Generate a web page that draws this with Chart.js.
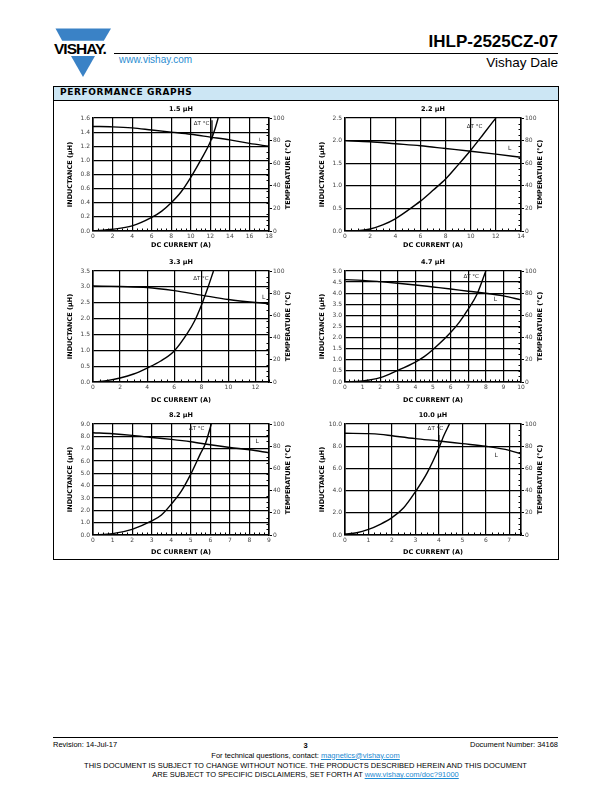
<!DOCTYPE html>
<html><head><meta charset="utf-8">
<script src="https://cdn.jsdelivr.net/npm/chart.js@4.4.0/dist/chart.umd.min.js"></script>
<style>
html,body{margin:0;padding:0;background:#fff;}
body{width:612px;height:792px;position:relative;overflow:hidden;font-family:"Liberation Sans",Arial,sans-serif;color:#000;}
.abs{position:absolute;white-space:nowrap;line-height:1;}
canvas{position:absolute;}
a{color:#1e8ad2;text-decoration:underline;}
.ctr{left:0;width:611px;text-align:center;}
</style></head><body>

<svg class="abs" style="left:0;top:0" width="130" height="90">
  <polygon points="55.5,28.6 111,28.6 103.8,40.7 62.2,40.7" fill="#3a82c6"/>
  <polygon points="71,56 95,56 83,77" fill="#3a82c6"/>
</svg>
<div class="abs" style="left:54px;top:40.7px;font-weight:bold;font-size:15.5px;letter-spacing:-1px">VISHAY.</div>
<div class="abs" style="right:54px;top:33.1px;font-weight:bold;font-size:17px">IHLP-2525CZ-07</div>
<div class="abs" style="left:114px;top:52.5px;width:444px;height:1px;background:#000"></div>
<div class="abs" style="left:119px;top:54.5px;font-size:10px;color:#2a8bd0">www.vishay.com</div>
<div class="abs" style="right:54px;top:56px;font-size:13.5px">Vishay Dale</div>

<div class="abs" style="left:53px;top:86px;width:506px;height:474px;border:1px solid #000;box-sizing:border-box"></div>
<div class="abs" style="left:54px;top:87px;width:504px;height:13px;background:#cce6f4;border-bottom:1px solid #000"></div>
<div class="abs" style="left:60px;top:88.4px;font-family:'DejaVu Sans';font-weight:bold;font-size:9px;letter-spacing:0.6px">PERFORMANCE GRAPHS</div>

<canvas id="c0" style="left:63px;top:102px"></canvas>
<canvas id="c1" style="left:315px;top:102px"></canvas>
<canvas id="c2" style="left:63px;top:255px"></canvas>
<canvas id="c3" style="left:315px;top:255px"></canvas>
<canvas id="c4" style="left:63px;top:408px"></canvas>
<canvas id="c5" style="left:315px;top:408px"></canvas>

<div class="abs" style="left:53px;top:737px;width:505px;height:1px;background:#000"></div>
<div class="abs" style="left:53px;top:740.9px;font-size:7.5px">Revision: 14-Jul-17</div>
<div class="abs ctr" style="top:741.5px;font-size:7.5px;font-weight:bold">3</div>
<div class="abs" style="right:54px;top:740.9px;font-size:7.5px">Document Number: 34168</div>
<div class="abs ctr" style="top:751.5px;font-size:7.5px">For technical questions, contact: <a>magnetics@vishay.com</a></div>
<div class="abs ctr" style="top:761.8px;font-size:7.5px">THIS DOCUMENT IS SUBJECT TO CHANGE WITHOUT NOTICE. THE PRODUCTS DESCRIBED HEREIN AND THIS DOCUMENT</div>
<div class="abs ctr" style="top:771.2px;font-size:7.5px">ARE SUBJECT TO SPECIFIC DISCLAIMERS, SET FORTH AT <a>www.vishay.com/doc?91000</a></div>

<script>
// ---------- data ----------
const TITLES = ['1.5 µH', '2.2 µH', '3.3 µH', '4.7 µH', '8.2 µH', '10.0 µH'];
const X_MAX = [18, 14, 13, 10, 9, 7.5];
const X_STEP = [2, 2, 2, 1, 1, 1];
const L_MAX = [1.6, 2.5, 3.5, 5.0, 9.0, 10.0];
const L_STEP = [0.2, 0.5, 0.5, 0.5, 1.0, 2.0];
const T_MAX = 100;
const T_STEP = 20;
const X_TITLE = 'DC CURRENT (A)';
const L_TITLE = 'INDUCTANCE (µH)';
const T_TITLE = 'TEMPERATURE (°C)';

const C1_I_L = [0, 2, 4, 6, 8, 10, 12, 14, 16, 18];
const C1_L   = [1.48, 1.475, 1.46, 1.43, 1.40, 1.37, 1.33, 1.29, 1.24, 1.20];
const C1_I_T = [0, 2, 4, 6, 7, 8, 9, 10, 11, 12, 12.5, 12.8];
const C1_T   = [0, 1.5, 4.5, 12, 17.4, 25, 34.5, 47.5, 62.5, 79, 91, 100];

const C2_I_L = [0, 2, 4, 6, 8, 10, 12, 14];
const C2_L   = [2.0, 1.975, 1.93, 1.885, 1.825, 1.765, 1.70, 1.63];
const C2_I_T = [0, 1, 2, 3, 4, 5, 6, 7, 8, 9, 10, 11, 12];
const C2_T   = [0, 0.3, 1.8, 5.4, 10.8, 18.3, 26.4, 36, 46, 58.5, 71.5, 85.6, 100];

const C3_I_L = [0, 2, 4, 6, 8, 10, 12, 13];
const C3_L   = [3.03, 3.01, 2.98, 2.88, 2.74, 2.60, 2.505, 2.47];
const C3_I_T = [0, 1, 2, 3, 4, 5, 6, 7, 7.5, 8, 8.5, 8.9];
const C3_T   = [0, 1.2, 3.6, 7.2, 12.6, 18.9, 28, 44.5, 55, 69, 85.6, 100];

const C4_I_L = [0, 1, 2, 3, 4, 5, 6, 7, 8, 9, 10];
const C4_L   = [4.61, 4.58, 4.52, 4.45, 4.37, 4.28, 4.19, 4.09, 4.0, 3.88, 3.70];
const C4_I_T = [0, 1, 2, 3, 4, 4.5, 5, 6, 6.5, 7, 7.5, 8];
const C4_T   = [0, 0.9, 3.9, 10.5, 18, 22.8, 29.3, 44.6, 54, 65.6, 79, 100];

const C5_I_L = [0, 1, 2, 3, 4, 5, 6, 7, 8, 9];
const C5_L   = [8.29, 8.21, 8.08, 7.91, 7.75, 7.56, 7.32, 7.10, 6.91, 6.67];
const C5_I_T = [0, 1, 2, 3, 3.5, 4, 4.5, 5, 5.5, 5.75, 6.05];
const C5_T   = [0, 1.2, 5.1, 12.7, 18, 27.7, 39, 54.8, 73.5, 82.5, 100];

const C6_I_L = [0, 1, 1.5, 2, 3, 4, 5, 6, 7, 7.5];
const C6_L   = [9.16, 9.13, 9.07, 8.94, 8.68, 8.47, 8.23, 7.99, 7.63, 7.30];
const C6_I_T = [0, 0.5, 1, 1.5, 2, 2.5, 3, 3.5, 4, 4.2, 4.45];
const C6_T   = [1, 2, 5, 9.6, 15.6, 24.6, 39, 56, 78.4, 89, 100];

const SERIES = [
  [C1_I_L, C1_L, C1_I_T, C1_T],
  [C2_I_L, C2_L, C2_I_T, C2_T],
  [C3_I_L, C3_L, C3_I_T, C3_T],
  [C4_I_L, C4_L, C4_I_T, C4_T],
  [C5_I_L, C5_L, C5_I_T, C5_T],
  [C6_I_L, C6_L, C6_I_T, C6_T]
];

// curve labels (in data units): [x, y on temperature axis] for ΔT, [x, y on inductance axis] for L
const DT_LABEL = [[11.1, 95], [10.3, 92.5], [7.97, 93.4], [7.17, 94.6], [5.3, 95.5], [3.85, 95.8]];
const L_LABEL  = [[17.1, 1.29], [13.1, 1.83], [12.6, 2.68], [8.55, 3.73], [8.4, 7.55], [6.44, 7.15]];
const LEADERS  = [[12.17, 98, 81], null, null, null, null, [4.0, 90, 79]];

// ---------- layout ----------
const PLOT_W = 176;
const PLOT_H = [113, 113, 111, 111, 111, 111];
const XT_PAD = [5.4, 5.4, 2.1, 2.1, 3.1, 3.1];
const TOPPAD = 16, SIDE = 30, BOT = 24;

const TICK_FONT = {family: 'DejaVu Sans', size: 6};
const TITLE_FONT = {family: 'DejaVu Sans', size: 6.5, weight: 'bold'};

const extras = {
  id: 'extras',
  afterDatasetsDraw(chart, args, o) {
    const {ctx, chartArea: a, scales} = chart;
    const xs = scales.x, yl = scales.y, yt = scales.y2;
    ctx.save();
    ctx.strokeStyle = '#000';
    ctx.lineWidth = 1;
    // minor ticks on x axis
    const xm = o.xStep / 4;
    for (let k = 0; k * xm <= xs.max + 1e-9; k++) {
      if (k % 4 === 0) continue;
      const p = Math.round(xs.getPixelForValue(k * xm)) + 0.5;
      ctx.beginPath(); ctx.moveTo(p, a.bottom); ctx.lineTo(p, a.bottom - 2.5); ctx.stroke();
    }
    // minor ticks on temperature axis
    for (let v = 5; v < T_MAX; v += 5) {
      if (v % T_STEP === 0) continue;
      const p = Math.round(yt.getPixelForValue(v)) + 0.5;
      ctx.beginPath(); ctx.moveTo(a.right, p); ctx.lineTo(a.right - 2.5, p); ctx.stroke();
    }
    // leader line
    if (o.leader) {
      const px = xs.getPixelForValue(o.leader[0]);
      ctx.lineWidth = 1.2;
      ctx.beginPath(); ctx.moveTo(px, yt.getPixelForValue(o.leader[1])); ctx.lineTo(px, yt.getPixelForValue(o.leader[2])); ctx.stroke();
    }
    // curve labels
    ctx.fillStyle = '#222';
    ctx.textAlign = 'center';
    ctx.textBaseline = 'middle';
    ctx.font = '5.5px "DejaVu Sans"';
    ctx.fillText('ΔT °C', xs.getPixelForValue(o.dt[0]), yt.getPixelForValue(o.dt[1]));
    ctx.font = (o.small ? '4.5px' : '6px') + ' "DejaVu Sans"';
    ctx.fillText('L', xs.getPixelForValue(o.l[0]), yl.getPixelForValue(o.l[1]));
    // right axis title, reading bottom to top
    ctx.fillStyle = '#000';
    ctx.font = 'bold 6.5px "DejaVu Sans"';
    ctx.translate(a.right + 19, (a.top + a.bottom) / 2);
    ctx.rotate(-Math.PI / 2);
    ctx.fillText(T_TITLE, 0, 0);
    ctx.restore();
  }
};

for (let i = 0; i < 6; i++) {
  const cv = document.getElementById('c' + i);
  const w = SIDE * 2 + PLOT_W, h = TOPPAD + PLOT_H[i] + BOT;
  cv.width = w; cv.height = h;
  cv.style.width = w + 'px'; cv.style.height = h + 'px';
  const [il, lv, it, tv] = SERIES[i];
  const lineStyle = {borderColor: '#000', borderWidth: 1.4, pointRadius: 0, fill: false, cubicInterpolationMode: 'monotone'};
  new Chart(cv, {
    type: 'line',
    data: {
      datasets: [
        Object.assign({label: 'L', yAxisID: 'y', data: il.map((x, k) => ({x: x, y: lv[k]}))}, lineStyle),
        Object.assign({label: 'ΔT °C', yAxisID: 'y2', data: it.map((x, k) => ({x: x, y: tv[k]}))}, lineStyle)
      ]
    },
    plugins: [extras],
    options: {
      responsive: false, animation: false, devicePixelRatio: 1,
      layout: {padding: 0},
      plugins: {
        legend: {display: false}, tooltip: {enabled: false},
        title: {display: true, text: TITLES[i], color: '#000', font: TITLE_FONT, padding: {top: 3.1, bottom: 5.1}},
        extras: {xStep: X_STEP[i], dt: DT_LABEL[i], l: L_LABEL[i], leader: LEADERS[i], small: i === 0}
      },
      scales: {
        x: {
          type: 'linear', min: 0, max: X_MAX[i],
          ticks: {stepSize: X_STEP[i], includeBounds: false, autoSkip: false, maxRotation: 0, padding: 2, font: TICK_FONT, color: '#444'},
          grid: {color: '#000', lineWidth: 1.2, drawTicks: false},
          border: {color: '#000', width: 1.6},
          title: {display: true, text: X_TITLE, color: '#000', font: TITLE_FONT, padding: {top: 0, bottom: XT_PAD[i]}},
          afterFit: s => { s.height = BOT; }
        },
        y: {
          position: 'left', min: 0, max: L_MAX[i],
          ticks: {stepSize: L_STEP[i], padding: 3, font: TICK_FONT, color: '#444', callback: v => Number(v).toFixed(1)},
          grid: {color: '#000', lineWidth: 1.2, drawTicks: false},
          border: {color: '#000', width: 1.6},
          title: {display: true, text: L_TITLE, color: '#000', font: TITLE_FONT, padding: {top: 3.1, bottom: 0}},
          afterFit: s => { s.width = SIDE; }
        },
        y2: {
          position: 'right', min: 0, max: T_MAX,
          ticks: {stepSize: T_STEP, padding: 1, font: TICK_FONT, color: '#444'},
          grid: {drawOnChartArea: false, drawTicks: true, tickLength: 3, color: '#000', lineWidth: 1},
          border: {color: '#000', width: 1.6},
          afterFit: s => { s.width = SIDE; }
        }
      }
    }
  });
}
</script>
</body></html>
